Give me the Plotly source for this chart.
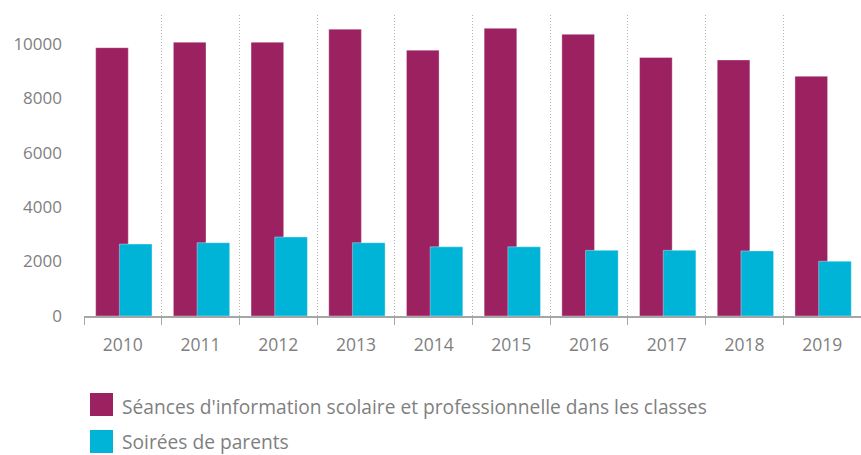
import plotly.graph_objects as go

# Data
years = ["2010", "2011", "2012", "2013", "2014", "2015", "2016", "2017", "2018", "2019"]
seances = [9850, 10050, 10050, 10530, 9760, 10560, 10340, 9490, 9400, 8800]
soirees = [2640, 2690, 2900, 2690, 2540, 2540, 2410, 2410, 2390, 2010]
series_names = [
    "Séances d'information scolaire et professionnelle dans les classes",
    "Soirées de parents",
]
y_ticks = [0, 2000, 4000, 6000, 8000, 10000]

MAGENTA = "#9C2160"
CYAN = "#00B4D8"
GREY_TEXT = "#7f7f7f"
FONT = "'Open Sans', Lato, sans-serif"

W, H = 861, 455
M_L, M_R, M_T, M_B = 84, 0, 15, 139
PLOT_H = H - M_T - M_B
PLOT_W = W - M_L - M_R

fig = go.Figure()
fig.add_trace(go.Bar(
    x=years, y=seances, name=series_names[0],
    marker=dict(color=MAGENTA, line=dict(color="rgba(255,255,255,0.35)", width=1)),
    offset=-0.35, width=0.42, showlegend=False,
))
fig.add_trace(go.Bar(
    x=years, y=soirees, name=series_names[1],
    marker=dict(color=CYAN, line=dict(color="rgba(255,255,255,0.35)", width=1)),
    offset=-0.045, width=0.42, showlegend=False,
))


def px_x(px):
    return (px - M_L) / PLOT_W


def px_y(py):
    return (H - M_B - py) / PLOT_H


# Custom legend with large square swatches: (top px, bottom px, colour, text centre px)
legend_rows = [(393, 416, MAGENTA, 406.5), (430, 453, CYAN, 441.5)]
for (y0, y1, col, ty), label in zip(legend_rows, series_names):
    fig.add_shape(type="rect", xref="paper", yref="paper",
                  x0=px_x(90), x1=px_x(113), y0=px_y(y1), y1=px_y(y0),
                  fillcolor=col, line=dict(width=0))
    fig.add_annotation(xref="paper", yref="paper", x=px_x(121), y=px_y(ty),
                       xanchor="left", yanchor="middle", showarrow=False, text=label,
                       borderpad=0,
                       font=dict(family=FONT, size=19.2, color=GREY_TEXT))

fig.update_layout(
    width=W, height=H,
    margin=dict(l=M_L, r=M_R, t=M_T, b=M_B),
    barmode="overlay",
    plot_bgcolor="white", paper_bgcolor="white",
    font=dict(family=FONT, color=GREY_TEXT),
    xaxis=dict(
        type="category", range=[-0.5, 9.5],
        tickson="boundaries", ticks="outside", ticklen=7, tickcolor="#a6a6a6",
        showline=True, linecolor="#a6a6a6", linewidth=2,
        showgrid=True, gridcolor="#b5b5b5", griddash="1px,2px", gridwidth=1,
        tickfont=dict(family=FONT, size=17.5, color=GREY_TEXT),
        ticklabelstandoff=12,
    ),
    yaxis=dict(
        range=[0, 11050], tickvals=y_ticks, tickformat="d",
        showgrid=False, zeroline=False, showline=False, ticks="",
        tickfont=dict(family=FONT, size=17, color=GREY_TEXT),
        ticklabelstandoff=21,
    ),
)

fig.write_html("out.html")
